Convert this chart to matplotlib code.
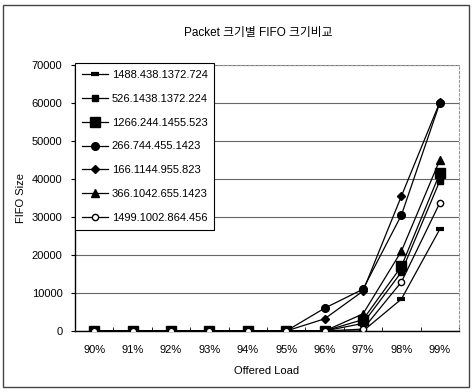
import matplotlib
matplotlib.use("Agg")
import matplotlib.pyplot as plt
from matplotlib.patches import Rectangle

plt.rcParams['font.family'] = ['Liberation Sans', 'Noto Sans CJK KR', 'DejaVu Sans']

title = "Packet 크기별 FIFO 크기비교"
categories = ["90%", "91%", "92%", "93%", "94%", "95%", "96%", "97%", "98%", "99%"]

labels = [
    "1488.438.1372.724",
    "526.1438.1372.224",
    "1266.244.1455.523",
    "266.744.455.1423",
    "166.1144.955.823",
    "366.1042.655.1423",
    "1499.1002.864.456",
]

s1488 = [0, 0, 0, 0, 0, 0, 0, 0, 8400, 26800]
s526 = [0, 0, 0, 0, 0, 0, 0, 2000, 15500, 39500]
s1266 = [0, 0, 0, 0, 0, 0, 0, 3000, 17000, 41500]
s266 = [0, 0, 0, 0, 0, 0, 6000, 11000, 30500, 60000]
s166 = [0, 0, 0, 0, 0, 0, 3200, 10500, 35500, 60200]
s366 = [0, 0, 0, 0, 0, 0, 0, 4500, 21000, 45000]
s1499 = [0, 0, 0, 0, 0, 0, 0, 500, 12900, 33700]

series = [s1488, s526, s1266, s266, s166, s366, s1499]
styles = [
    dict(marker='_', markersize=6, markeredgewidth=3, markerfacecolor='black', markeredgecolor='black'),
    dict(marker='s', markersize=4.5, markerfacecolor='black', markeredgecolor='black'),
    dict(marker='s', markersize=7.5, markerfacecolor='black', markeredgecolor='black'),
    dict(marker='o', markersize=5.5, markerfacecolor='black', markeredgecolor='black'),
    dict(marker='D', markersize=4, markerfacecolor='black', markeredgecolor='black'),
    dict(marker='^', markersize=5.5, markerfacecolor='black', markeredgecolor='black'),
    dict(marker='o', markersize=4.5, markerfacecolor='white', markeredgecolor='black', markeredgewidth=1),
]

fig = plt.figure(figsize=(4.73, 3.92), dpi=100)
ax = fig.add_axes([75/473, 1-331/392, (459-75)/473, (331-65)/392])

x = list(range(len(categories)))
for i, (vals, lab, st) in enumerate(zip(series, labels, styles)):
    ax.plot(x, vals, color='black', linewidth=0.9, label=lab, zorder=3+i, **st)

ax.set_xlim(-0.5, 9.5)
ax.set_ylim(0, 70000)
ax.set_yticks(range(0, 70001, 10000))
ax.set_xticks(x)
ax.set_xticklabels(categories)
ax.set_xticks([k - 0.5 for k in range(11)], minor=True)
ax.tick_params(axis='x', which='major', length=0, labelsize=8, pad=10)
ax.tick_params(axis='x', which='minor', length=3, direction='in')
ax.tick_params(axis='y', length=3, direction='out', labelsize=8, pad=6)

ax.grid(axis='y', color='#666666', linewidth=0.8)
ax.set_axisbelow(True)
for side in ['top', 'right']:
    ax.spines[side].set_color('#999999')
    ax.spines[side].set_linestyle((0, (2, 2)))
    ax.spines[side].set_linewidth(0.8)
ax.spines['left'].set_linewidth(1.0)
ax.spines['bottom'].set_linewidth(1.0)

ax.set_xlabel("Offered Load", fontsize=8, labelpad=8)
ax.set_ylabel("FIFO Size", fontsize=8, labelpad=4)
fig.text(258/473, 1-33/392, title, ha='center', va='center', fontsize=8.5)

leg = ax.legend(loc='upper left', bbox_to_anchor=(0.0, 1.007), fontsize=8,
                frameon=True, fancybox=False, edgecolor='black', framealpha=1,
                labelspacing=1.25, handlelength=2.4, handletextpad=0.3,
                borderpad=0.6, borderaxespad=0)
leg.get_frame().set_linewidth(0.8)

fig.patches.append(Rectangle((0.006, 0.012), 0.986, 0.975, transform=fig.transFigure,
                             fill=False, edgecolor='#444444', linewidth=1.0))

fig.savefig("out.png", dpi=100)
